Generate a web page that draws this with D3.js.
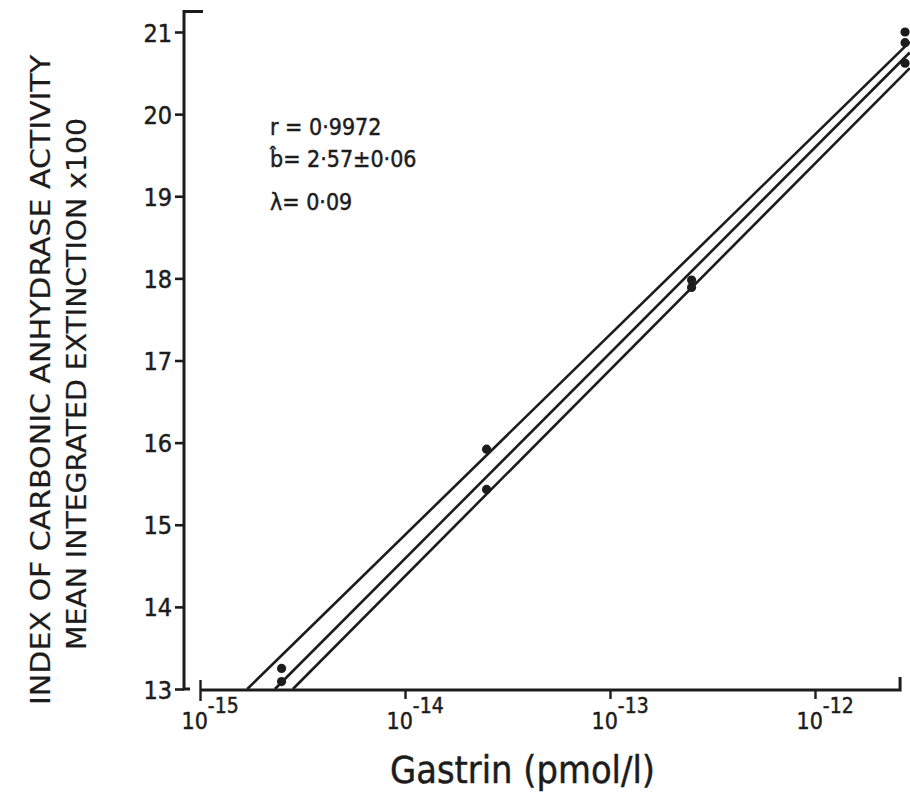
<!DOCTYPE html>
<html>
<head>
<meta charset="utf-8">
<script src="https://cdn.jsdelivr.net/npm/d3@7"></script>
<style>
  html, body { margin: 0; padding: 0; background: #ffffff; }
  svg { display: block; }
  .lbl { font-family: "DejaVu Sans Condensed", "Liberation Sans Narrow", "DejaVu Sans", sans-serif; font-stretch: condensed; fill: #1c1c1c; stroke: #1c1c1c; stroke-width: 0.45px; }
</style>
</head>
<body>
<svg id="chart" width="910" height="797"></svg>
<script>
// Gastrin concentration (pmol/l) against carbonic anhydrase activity index
const gastrin  = [2.5e-15, 2.5e-15, 2.5e-14, 2.5e-14, 2.5e-13, 2.5e-13, 2.75e-12, 2.75e-12, 2.75e-12];
const activity = [13.25, 13.09, 15.92, 15.43, 17.98, 17.89, 21.0, 20.87, 20.62];

// Fitted regression line and its upper / lower limits, given by end points
const lineNames         = ["upper", "fit", "lower"];
const lineStartGastrin  = [1.7e-15, 2.32e-15, 2.84e-15];
const lineStartActivity = [13, 13, 13];
const lineEndGastrin    = [2.9e-12, 2.9e-12, 2.9e-12];
const lineEndActivity   = [20.88, 20.75, 20.56];

// Axis ticks
const yTickValues    = [13, 14, 15, 16, 17, 18, 19, 20, 21];
const xTickValues    = [1e-15, 1e-14, 1e-13, 1e-12];
const xTickExponents = ["-15", "-14", "-13", "-12"];
const xAxisEnd = 2.6e-12;
const yAxisTop = 21.25;

// Regression statistics
const statLines = ["r = 0·9972", "b̂= 2·57±0·06", "λ= 0·09"];

const yTitleLines = ["INDEX OF CARBONIC ANHYDRASE  ACTIVITY", "MEAN INTEGRATED EXTINCTION x100"];
const xTitle = "Gastrin (pmol/l)";

const ink = "#1c1c1c";
const svg = d3.select("#chart");

const x = d3.scaleLog().domain([1e-15, 1e-12]).range([200, 815]);
const y = d3.scaleLinear().domain([13, 21]).range([689, 32]);

// ---- y axis ----
const yAxisX = 184;
const gy = svg.append("g")
  .attr("transform", `translate(${yAxisX},0)`)
  .call(d3.axisLeft(y).tickValues(yTickValues).tickSize(9).tickPadding(3).tickFormat(d3.format("d")));
gy.select(".domain").remove();
gy.selectAll(".tick line").attr("stroke", ink).attr("stroke-width", 2.6);
gy.selectAll(".tick text")
  .attr("class", "lbl")
  .style("font-size", "25px")
  .attr("dy", "0.36em");

// spine with a short hook at the top and a foot at the bottom
svg.append("path")
  .attr("d", `M${yAxisX + 19},${y(yAxisTop)} H${yAxisX} V${y(13)} h6`)
  .attr("fill", "none").attr("stroke", ink).attr("stroke-width", 3);

// ---- x axis ----
const xAxisY = y(13) + 1;
const gx = svg.append("g")
  .attr("transform", `translate(0,${xAxisY})`)
  .call(d3.axisBottom(x).tickValues(xTickValues).tickSize(9).tickFormat(""));
gx.select(".domain").remove();
gx.selectAll(".tick line").attr("stroke", ink).attr("stroke-width", 2.4)
  .attr("y1", (d, i) => i === 0 ? -10 : 0)
  .attr("y2", (d, i) => i === 0 ? 11 : 9);
gx.selectAll(".tick text").remove();
gx.selectAll(".tick").each(function(d, i) {
  const t = d3.select(this).append("text")
    .attr("class", "lbl")
    .attr("x", -19).attr("y", 39)
    .attr("text-anchor", "start")
    .style("font-size", "23px");
  t.append("tspan").text("10");
  t.append("tspan").attr("dy", -16).style("font-size", "21px").text(xTickExponents[i]);
});

svg.append("path")
  .attr("d", `M${x(1e-15)},${xAxisY} H${x(xAxisEnd)} v-13`)
  .attr("fill", "none").attr("stroke", ink).attr("stroke-width", 3);

// ---- regression lines ----
const lineGen = d3.line().x(d => x(d[0])).y(d => y(d[1]));
svg.append("g").selectAll("path")
  .data(lineNames.map((n, i) => ({
    name: n,
    pts: [[lineStartGastrin[i], lineStartActivity[i]], [lineEndGastrin[i], lineEndActivity[i]]]
  })))
  .join("path")
  .attr("d", d => lineGen(d.pts))
  .attr("fill", "none")
  .attr("stroke", ink)
  .attr("stroke-width", 2.6);

// ---- observations ----
svg.append("g").selectAll("circle")
  .data(gastrin.map((g, i) => [g, activity[i]]))
  .join("circle")
  .attr("cx", d => x(d[0]))
  .attr("cy", d => y(d[1]))
  .attr("r", 4.6)
  .attr("fill", ink);

// ---- statistics ----
const statY = [135, 167, 210];
svg.append("g").selectAll("text")
  .data(statLines)
  .join("text")
  .attr("class", "lbl")
  .attr("x", 270)
  .attr("y", (d, i) => statY[i])
  .style("font-size", "23px")
  .text(d => d);

// ---- axis titles ----
const yTitleX = [50, 86], yTitleMid = [380, 384], yTitleLen = [650, 532];
yTitleLines.forEach((s, i) => {
  svg.append("text")
    .attr("class", "lbl")
    .style("stroke-width", "0.2px")
    .attr("transform", `translate(${yTitleX[i]},${yTitleMid[i]}) rotate(-90)`)
    .attr("text-anchor", "middle")
    .attr("textLength", yTitleLen[i])
    .attr("lengthAdjust", "spacingAndGlyphs")
    .style("font-size", "27px")
    .text(s);
});

svg.append("text")
  .attr("class", "lbl")
  .attr("x", 390).attr("y", 783)
  .attr("textLength", 265)
  .attr("lengthAdjust", "spacingAndGlyphs")
  .style("font-size", "37px")
  .text(xTitle);
</script>
</body>
</html>
